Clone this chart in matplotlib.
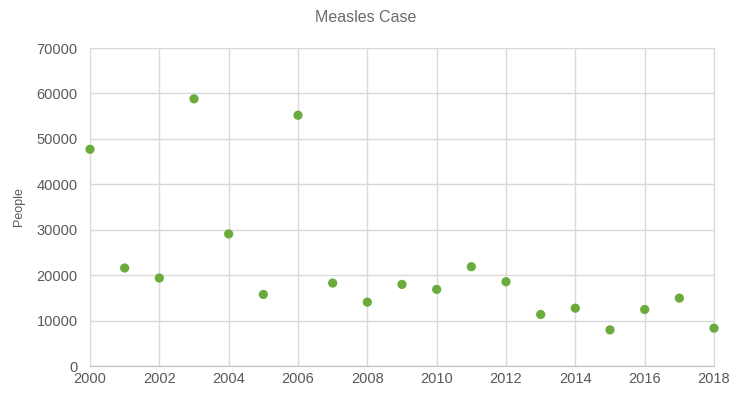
import matplotlib.pyplot as plt

plt.rcParams['font.family'] = ['Liberation Sans', 'DejaVu Sans']

years = list(range(2000, 2019))
cases = [47700, 21570, 19360, 58810, 29070, 15750, 55200, 18250, 14060, 17960,
         16860, 21860, 18550, 11340, 12730, 7950, 12440, 14940, 8320]
x_ticks = list(range(2000, 2019, 2))
y_ticks = list(range(0, 70001, 10000))

fig = plt.figure(figsize=(7.32, 3.93), dpi=100)
ax = fig.add_axes([90 / 732, 1 - 366 / 393, 624 / 732, 318 / 393])

ax.scatter(years, cases, s=44, color='#6aab3c', edgecolors='none', zorder=3, clip_on=False)

ax.set_xlim(2000, 2018)
ax.set_ylim(0, 70000)
ax.set_xticks(x_ticks)
ax.set_yticks(y_ticks)
ax.grid(True, color='#d9d9d9', linewidth=1)
ax.set_axisbelow(True)
for side in ['top', 'right', 'left', 'bottom']:
    ax.spines[side].set_color('#d9d9d9')
ax.spines['bottom'].set_color('#bfbfbf')
ax.tick_params(length=0, labelsize=10.5, labelcolor='#595959')
ax.tick_params(axis='y', pad=9)
ax.tick_params(axis='x', pad=4)

ax.set_ylabel('People', fontsize=9, color='#595959', labelpad=8)
fig.text(0.5, 1 - 18 / 393, 'Measles Case', ha='center', va='center', fontsize=11.5, color='#6b6b6b')

fig.savefig('out.png', dpi=100, facecolor='white')
